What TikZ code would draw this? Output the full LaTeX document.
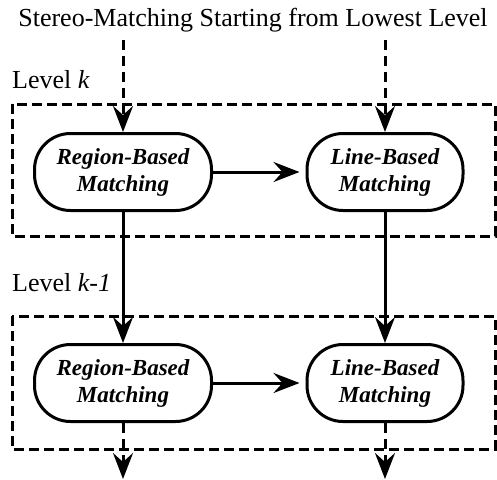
\documentclass[tikz,border=0pt]{standalone}
\usepackage{fontspec}
\setmainfont{Liberation Serif}
\usetikzlibrary{arrows.meta}
\tikzset{
  proc/.style={draw, line width=3pt, minimum width=177pt, minimum height=77pt, rounded corners=36pt, align=center, inner sep=0pt, font=\fontsize{23}{27}\selectfont\bfseries\itshape},
  levelbox/.style={draw, line width=3pt, dash pattern=on 10pt off 5pt},
  arr/.style={line width=3pt, -{Stealth[length=26pt,width=20pt,inset=9pt]}},
  darr/.style={arr, dash pattern=on 10pt off 6pt},
  lbl/.style={font=\fontsize{26}{30}\selectfont, inner sep=0pt}
}
\begin{document}
\begin{tikzpicture}[x=1pt,y=-1pt]
\useasboundingbox (0,0) rectangle (497,479);
\node[lbl] (title) at (253,20) {Stereo-Matching Starting from Lowest Level};
\node[lbl, anchor=west] (lk) at (12,80) {Level \textit{k}};
\node[lbl, anchor=west] (lk1) at (12,283) {Level \textit{k-1}};
\draw[levelbox] (12,104) rectangle (495,236);
\draw[levelbox] (12,316) rectangle (495,449);
\node[proc] (r1) at (123,172) {Region-Based\\Matching};
\node[proc, minimum width=156pt] (l1) at (385,172) {Line-Based\\Matching};
\node[proc] (r2) at (123,383) {Region-Based\\Matching};
\node[proc, minimum width=156pt] (l2) at (385,383) {Line-Based\\Matching};
\coordinate (ts1) at (123,40);
\coordinate (ts2) at (385,40);
\coordinate (be1) at (123,479);
\coordinate (be2) at (385,479);
\draw[darr] (ts1) -- (r1.north);
\draw[darr] (ts2) -- (l1.north);
\draw[arr, shorten >=6pt] (r1) -- (l1);
\draw[arr, shorten >=6pt] (r2) -- (l2);
\draw[arr] (r1.south) -- (r2.north);
\draw[arr] (l1.south) -- (l2.north);
\draw[darr] (r2.south) -- (be1);
\draw[darr] (l2.south) -- (be2);
\end{tikzpicture}
\end{document}
